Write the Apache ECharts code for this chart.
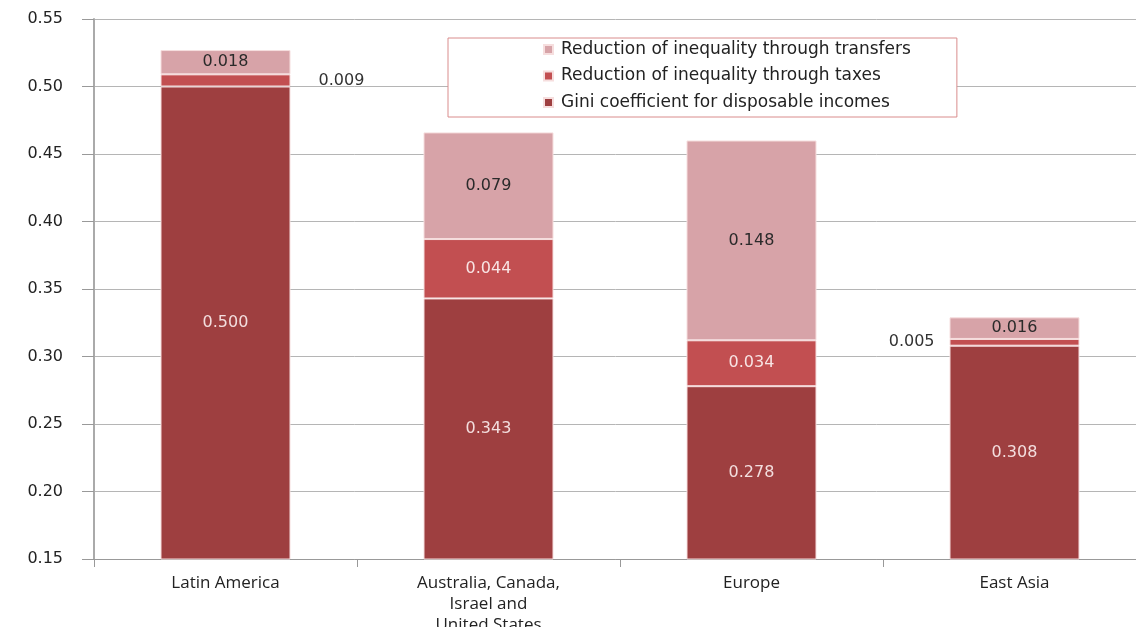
<!DOCTYPE html>
<html>
<head>
<meta charset="utf-8">
<script src="https://cdn.jsdelivr.net/npm/echarts@6/dist/echarts.min.js"></script>
<style>
html,body{margin:0;padding:0;background:#fff;}
#chart{width:1136px;height:627px;}
</style>
</head>
<body>
<div id="chart"></div>
<script>
const categories = ['Latin America', 'Australia, Canada,\nIsrael and\nUnited States', 'Europe', 'East Asia'];
const giniDisposable = [0.500, 0.343, 0.278, 0.308];
const taxReduction = [0.009, 0.044, 0.034, 0.005];
const transferReduction = [0.018, 0.079, 0.148, 0.016];
const seriesNames = ['Reduction of inequality through transfers', 'Reduction of inequality through taxes', 'Gini coefficient for disposable incomes'];

const chart = echarts.init(document.getElementById('chart'));
const labelFont = {fontFamily: 'DejaVu Sans', fontSize: 16};
const fmt = p => p.value.toFixed(3);

const taxData = taxReduction.map((v, i) => {
  const d = {value: v};
  if (i === 0) d.label = {position: 'right', distance: 28, color: '#333'};
  if (i === 3) d.label = {position: 'left', distance: 15, color: '#333'};
  return d;
});

chart.setOption({
  animation: false,
  backgroundColor: '#fff',
  grid: {left: 94, top: 19, width: 1052, height: 540, containLabel: false, outerBoundsMode: 'none'},
  legend: {
    data: [seriesNames[0], seriesNames[1], seriesNames[2]],
    orient: 'vertical',
    left: 448, top: 38,
    padding: [3, 46, 6, 95],
    itemGap: 9.5,
    itemWidth: 9, itemHeight: 9,
    icon: 'rect',
    borderColor: '#d98c8c', borderWidth: 1,
    backgroundColor: '#fff',
    textStyle: {fontFamily: 'DejaVu Sans', fontSize: 17, color: '#222', padding: [0, 0, 0, 3]}
  },
  xAxis: {
    type: 'category',
    data: categories,
    axisLine: {lineStyle: {color: '#999'}},
    axisTick: {show: true, length: 8, lineStyle: {color: '#999'}},
    axisLabel: {fontFamily: 'Open Sans', fontSize: 17, color: '#222', margin: 14, lineHeight: 21}
  },
  yAxis: {
    type: 'value',
    min: 0.15, max: 0.55, interval: 0.05,
    axisLine: {show: true, lineStyle: {color: '#aaa', width: 2}},
    axisTick: {show: true, length: 12, lineStyle: {color: '#999'}},
    axisLabel: {fontFamily: 'DejaVu Sans', fontSize: 16, color: '#222', margin: 31, formatter: v => v.toFixed(2)},
    splitLine: {lineStyle: {color: '#b5b5b5'}}
  },
  series: [
    {
      name: seriesNames[2], type: 'bar', stack: 'g', barWidth: 130,
      data: giniDisposable,
      itemStyle: {color: '#9e3f40', borderColor: '#f6dede', borderWidth: 1},
      label: {show: true, position: 'inside', formatter: fmt, color: '#f3dede', ...labelFont},
      z: 2
    },
    {
      name: seriesNames[1], type: 'bar', stack: 'g', barWidth: 130,
      data: taxData,
      itemStyle: {color: '#c24f51', borderColor: '#f6dede', borderWidth: 1},
      label: {show: true, position: 'inside', formatter: fmt, color: '#f8e4e4', ...labelFont},
      z: 2
    },
    {
      name: seriesNames[0], type: 'bar', stack: 'g', barWidth: 130,
      data: transferReduction,
      itemStyle: {color: '#d7a3a8', borderColor: '#f6dede', borderWidth: 1},
      label: {show: true, position: 'inside', formatter: fmt, color: '#2a2a2a', ...labelFont},
      z: 2
    }
  ]
});
</script>
</body>
</html>
